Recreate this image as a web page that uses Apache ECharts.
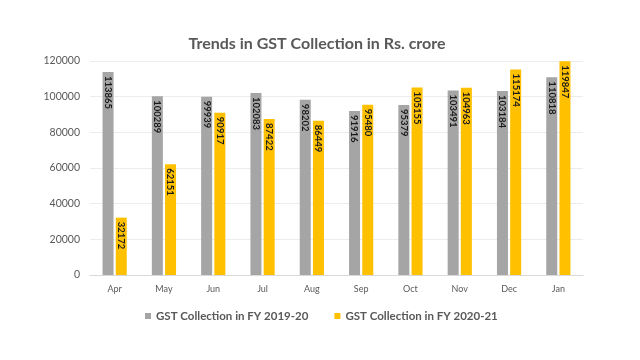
<!DOCTYPE html>
<html><head><meta charset="utf-8">
<script src="https://cdn.jsdelivr.net/npm/echarts@6/dist/echarts.min.js"></script>
<style>html,body{margin:0;padding:0;background:#fff}#c{width:640px;height:360px}</style>
</head><body><div id="c"></div>
<script>
const categories = ['Apr','May','Jun','Jul','Aug','Sep','Oct','Nov','Dec','Jan'];
const fy1920 = [113865,100289,99939,102083,98202,91916,95379,103491,103184,110818];
const fy2021 = [32172,62151,90917,87422,86449,95480,105155,104963,115174,119847];
const seriesNames = ['GST Collection in FY 2019-20','GST Collection in FY 2020-21'];
const font = 'Lato, "Open Sans", sans-serif';
const chart = echarts.init(document.getElementById('c'));
const lbl = {show:true, position:'insideTop', rotate:-90, align:'left', verticalAlign:'middle', distance:4, color:'#1a1a1a', fontSize:9.5, fontWeight:'bold', fontFamily:font};
chart.setOption({
  animation:false,
  title:{text:'Trends in GST Collection in Rs. crore', left:312, top:31, textAlign:'center',
    textStyle:{fontSize:16, fontWeight:'bold', color:'#595959', fontFamily:font}},
  legend:{data:seriesNames, left:140, top:305, itemWidth:6, itemHeight:6, itemGap:26, icon:'rect',
    textStyle:{fontSize:11.5, color:'#595959', fontWeight:'bold', fontFamily:font}},
  grid:{left:90, right:57, top:61, bottom:85},
  xAxis:{type:'category', data:categories, axisTick:{show:false},
    axisLine:{lineStyle:{color:'#d9d9d9'}},
    axisLabel:{fontSize:9, color:'#595959', margin:10, fontFamily:font}},
  yAxis:{type:'value', min:0, max:120000, interval:20000,
    splitLine:{lineStyle:{color:'#ececec'}},
    axisLabel:{fontSize:10.5, color:'#595959', margin:10, fontFamily:font, formatter:v=>String(v)}},
  series:[
    {name:seriesNames[0], type:'bar', data:fy1920, barWidth:11, barGap:'20%', itemStyle:{color:'#A5A5A5'}, label:lbl},
    {name:seriesNames[1], type:'bar', data:fy2021, barWidth:11, itemStyle:{color:'#FFC000'}, label:lbl}
  ]
});
</script></body></html>
